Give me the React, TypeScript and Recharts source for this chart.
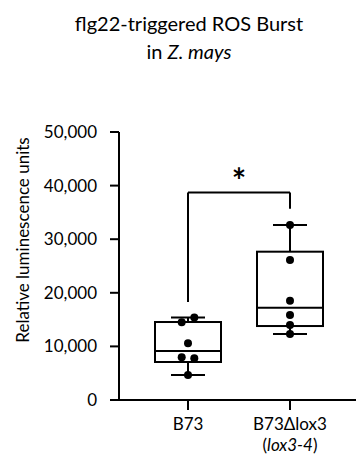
import React from 'react';
import { ComposedChart, Bar, Scatter, XAxis, YAxis, ReferenceLine } from 'recharts';

// groups and box statistics
const groups = ['B73', 'B73Δlox3'];
const groupSubLabels = ['', '(lox3-4)'];
const minVals = [4660, 12310];
const q1Vals = [7090, 13800];
const medianVals = [9140, 17220];
const q3Vals = [14550, 27670];
const maxVals = [15400, 32650];

// individual replicates
const b73Points = [14500, 15400, 10580, 7970, 7780, 4660];
const lox3Points = [32650, 26100, 18500, 15860, 14000, 12310];
const groupPoints = [b73Points, lox3Points];

const yTicks = [0, 10000, 20000, 30000, 40000, 50000];

// significance bracket (y values)
const bracketLeftLow = 18300;
const bracketTop = 38700;
const bracketRightLow = 35700;
const bracketMark = '*';

const FONT = 'Lato, "Open Sans", sans-serif';

// points closer than this get nudged sideways, left/right
const swarmSlots = (values: number[], closeness = 1200) => {
  const slots = values.map(() => 0);
  for (let i = 0; i < values.length; i++) {
    for (let j = 0; j < i; j++) {
      if (Math.abs(values[i] - values[j]) < closeness && slots[i] === 0 && slots[j] === 0) {
        slots[j] = -1;
        slots[i] = 1;
      }
    }
  }
  return slots;
};

const data = groups.map((name, g) => {
  const row: any = {
    name,
    sub: groupSubLabels[g],
    min: minVals[g],
    q1: q1Vals[g],
    median: medianVals[g],
    q3: q3Vals[g],
    max: maxVals[g],
  };
  const slots = swarmSlots(groupPoints[g]);
  groupPoints[g].forEach((v, i) => {
    row[`p${i}`] = v;
    row[`s${i}`] = slots[i];
  });
  return row;
});

const pointKeys = b73Points.map((_, i) => i);

const BoxShape = (props: any) => {
  const { x, y, width, height, payload } = props;
  const ppu = height / (payload.q3 - payload.q1);
  const cx = x + width / 2;
  const yMed = y + (payload.q3 - payload.median) * ppu;
  const yMax = y - (payload.max - payload.q3) * ppu;
  const yMin = y + height + (payload.q1 - payload.min) * ppu;
  const cap = 17;
  return (
    <g stroke="#000" strokeWidth={2} fill="none">
      <line x1={cx} x2={cx} y1={y} y2={yMax} />
      <line x1={cx - cap} x2={cx + cap} y1={yMax} y2={yMax} />
      <line x1={cx} x2={cx} y1={y + height} y2={yMin} />
      <line x1={cx - cap} x2={cx + cap} y1={yMin} y2={yMin} />
      <rect x={x} y={y} width={width} height={height} />
      <line x1={x} x2={x + width} y1={yMed} y2={yMed} />
    </g>
  );
};

const makeDot = (i: number) => (props: any) => {
  const { cx, cy, payload } = props;
  return <circle cx={cx + payload[`s${i}`] * 6.3} cy={cy} r={4} fill="#000" />;
};

const XTick = (props: any) => {
  const { x, y, payload, index } = props;
  const sub = groupSubLabels[index];
  return (
    <g>
      <text x={x} y={y + 20} textAnchor="middle" fontFamily={FONT} fontSize={17} fill="#000">
        {payload.value}
      </text>
      {sub && (
        <text x={x} y={y + 41} textAnchor="middle" fontFamily={FONT} fontSize={17} fill="#000">
          ({<tspan fontStyle="italic">{sub.replace(/[()]/g, '')}</tspan>})
        </text>
      )}
    </g>
  );
};

const StarLabel = (props: any) => {
  const { viewBox } = props;
  const cx = viewBox.x + viewBox.width / 2;
  return (
    <text x={cx} y={viewBox.y + 0} textAnchor="middle" fontFamily={FONT} fontSize={34} fontWeight="bold" fill="#000">
      {bracketMark}
    </text>
  );
};

const YLabel = (props: any) => {
  const { viewBox } = props;
  const lx = viewBox.x + 22;
  const ly = viewBox.y + viewBox.height / 2 - 26;
  return (
    <text
      x={lx}
      y={ly}
      transform={`rotate(-90, ${lx}, ${ly})`}
      textAnchor="middle"
      dominantBaseline="central"
      fontFamily={FONT}
      fontSize={17}
      fill="#000"
    >
      Relative luminescence units
    </text>
  );
};

export default function App() {
  return (
    <div style={{ position: 'absolute', left: 0, top: 0, width: 356, height: 456, background: '#fff', fontFamily: FONT }}>
      <div
        style={{
          position: 'absolute',
          left: 0,
          top: 10,
          width: 378,
          textAlign: 'center',
          fontSize: 20,
          lineHeight: '27.6px',
          color: '#000',
        }}
      >
        <div>flg22-triggered ROS Burst</div>
        <div>
          in <i>Z. mays</i>
        </div>
      </div>
      <ComposedChart
        width={356}
        height={456}
        data={data}
        margin={{ top: 132, right: 0, bottom: 16, left: 0 }}
        style={{ position: 'absolute', left: 0, top: 0 }}
      >
        <XAxis
          dataKey="name"
          type="category"
          allowDuplicatedCategory={false}
          padding={{ left: 18, right: 15 }}
          height={40}
          tickSize={10}
          tickMargin={0}
          axisLine={{ stroke: '#000', strokeWidth: 2 }}
          tickLine={{ stroke: '#000', strokeWidth: 2 }}
          tick={<XTick />}
          interval={0}
        />
        <YAxis
          type="number"
          domain={[0, 50000]}
          ticks={yTicks}
          width={119}
          tickSize={9}
          tickMargin={13}
          interval={0}
          axisLine={{ stroke: '#000', strokeWidth: 2 }}
          tickLine={{ stroke: '#000', strokeWidth: 2 }}
          tick={{ fill: '#000', fontSize: 17, fontFamily: FONT }}
          tickFormatter={(v: number) => v.toLocaleString('en-US')}
          label={<YLabel />}
        />
        <Bar
          dataKey={(d: any) => [d.q1, d.q3]}
          barSize={66}
          shape={<BoxShape />}
          isAnimationActive={false}
        />
        {pointKeys.map((i) => (
          <Scatter
            key={i}
            dataKey={`p${i}`}
            shape={makeDot(i)}
            isAnimationActive={false}
          />
        ))}
        <ReferenceLine
          segment={[{ x: groups[0], y: bracketLeftLow }, { x: groups[0], y: bracketTop }]}
          stroke="#000"
          strokeWidth={2}
        />
        <ReferenceLine
          segment={[{ x: groups[0], y: bracketTop }, { x: groups[1], y: bracketTop }]}
          stroke="#000"
          strokeWidth={2}
          label={<StarLabel />}
        />
        <ReferenceLine
          segment={[{ x: groups[1], y: bracketTop }, { x: groups[1], y: bracketRightLow }]}
          stroke="#000"
          strokeWidth={2}
        />
      </ComposedChart>
    </div>
  );
}
